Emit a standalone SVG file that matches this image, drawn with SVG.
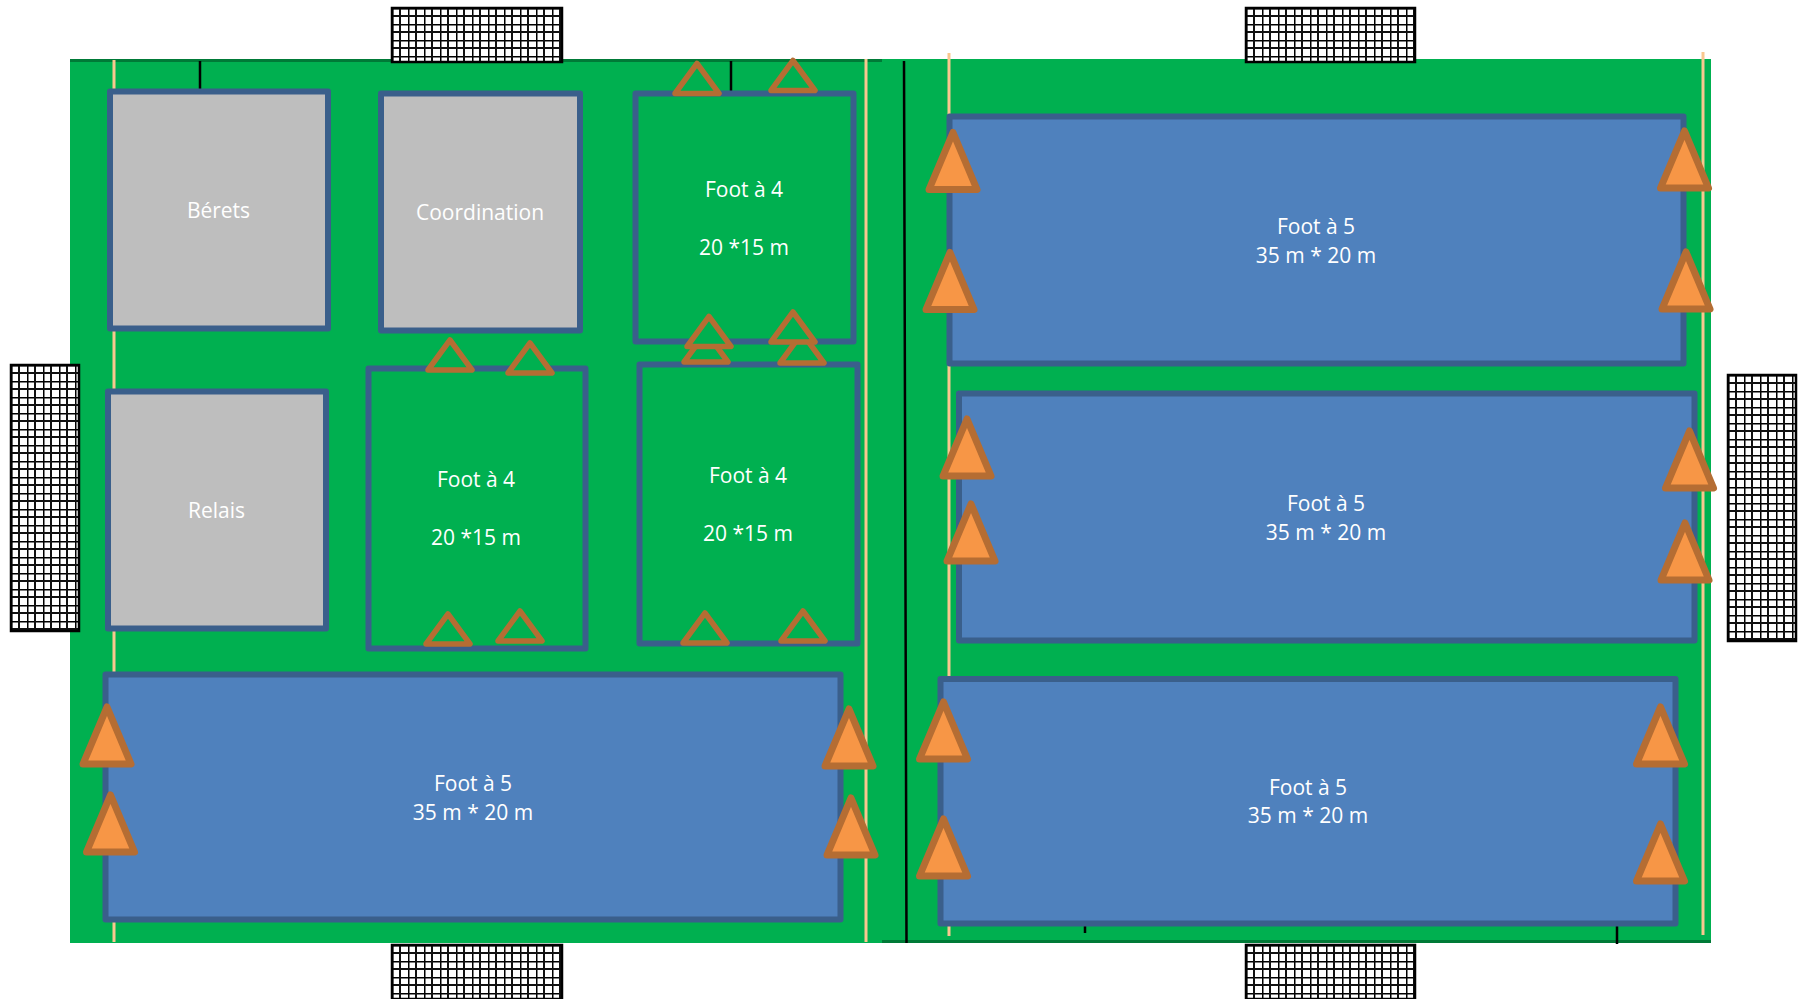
<svg xmlns="http://www.w3.org/2000/svg" width="1806" height="999" viewBox="0 0 1806 999">
<style>
.gray{fill:#BEBEBE;stroke:#3A5F8B;stroke-width:6;stroke-linejoin:round}
.f4{fill:#00B050;stroke:#3A5F8B;stroke-width:6;stroke-linejoin:round}
.f5{fill:#4F81BD;stroke:#3A5F8B;stroke-width:6;stroke-linejoin:round}
.t{font-family:"Open Sans","Noto Sans",sans-serif;font-size:21px;fill:#fff;text-anchor:middle}
.net{fill:url(#mesh);stroke:#000;stroke-width:2.500}
.tan{stroke:#F9C78F;stroke-width:3;fill:none}
.blk{stroke:#000;stroke-width:2.500;fill:none}
.drk{stroke:#007A37;stroke-width:3;fill:none}
.sm{fill:#00B050;stroke:#B56D33;stroke-width:5.500;stroke-linejoin:round}
.lg{fill:#F79646;stroke:#B56D33;stroke-width:7;stroke-linejoin:round}
</style>
<defs>
<pattern id="mesh" patternUnits="userSpaceOnUse" width="16" height="16">
<rect width="16" height="16" fill="#fff"/>
<path d="M0 0V16M0 0H16" stroke="#000" stroke-width="3" fill="none"/>
<path d="M8 0V16M0 8H16" stroke="#111" stroke-width="2" fill="none"/>
</pattern>
<path id="s" d="M-22 0L0 -30L22 0Z"/>
<path id="l" d="M-24 0L0 -57L24 0Z"/>
</defs>

<rect id="field" x="70" y="59" width="1641" height="884" fill="#00B050"/>

<g id="connectors">
<path class="drk" d="M70 60.500H882M882 941.500H1711"/>
<path class="tan" d="M114 60V942M866 59V942M949 53V936M1703 52V935"/>
<path class="blk" d="M200 61V90M731 61V92M904 61L906.500 943M1085 926V933M1617 925V944"/>
</g>

<g id="net-top-1" transform="translate(392 8)"><rect class="net" width="170" height="54"/></g>
<g id="net-top-2" transform="translate(1246 8)"><rect class="net" width="169" height="54"/></g>
<g id="net-bottom-1" transform="translate(392 945)"><rect class="net" width="170" height="54"/></g>
<g id="net-bottom-2" transform="translate(1246 945)"><rect class="net" width="169" height="54"/></g>
<g id="net-left" transform="translate(11 365)"><rect class="net" width="68" height="266"/></g>
<g id="net-right" transform="translate(1728 375)"><rect class="net" width="68" height="266"/></g>

<g id="berets"><rect class="gray" x="110" y="91.500" width="218" height="237"/><text class="t" x="218.500" y="218">Bérets</text></g>
<g id="coordination"><rect class="gray" x="381" y="93.500" width="199" height="237"/><text class="t" x="480" y="220">Coordination</text></g>
<g id="relais"><rect class="gray" x="108" y="391.500" width="218" height="237"/><text class="t" x="216.500" y="518">Relais</text></g>

<g id="foot4-a"><rect class="f4" x="368.500" y="368.500" width="217" height="280"/><text class="t" x="476" y="487">Foot à 4</text><text class="t" x="476" y="545">20 *15 m</text></g>
<g id="foot4-b"><rect class="f4" x="635.500" y="93.500" width="218" height="248"/><text class="t" x="744" y="196.500">Foot à 4</text><text class="t" x="744" y="254.500">20 *15 m</text></g>
<g id="foot4-c"><rect class="f4" x="639.500" y="364.500" width="218" height="279"/><text class="t" x="748" y="482.500">Foot à 4</text><text class="t" x="748" y="540.500">20 *15 m</text></g>

<g id="foot5-a"><rect class="f5" x="105.500" y="674.500" width="735" height="245"/><text class="t" x="473" y="791">Foot à 5</text><text class="t" x="473" y="819.500">35 m * 20 m</text></g>
<g id="foot5-b"><rect class="f5" x="949.500" y="116.500" width="734" height="247"/><text class="t" x="1316" y="234">Foot à 5</text><text class="t" x="1316" y="263">35 m * 20 m</text></g>
<g id="foot5-c"><rect class="f5" x="959" y="393.500" width="735.500" height="247"/><text class="t" x="1326" y="511">Foot à 5</text><text class="t" x="1326" y="539.500">35 m * 20 m</text></g>
<g id="foot5-d"><rect class="f5" x="940.500" y="679" width="735" height="244.500"/><text class="t" x="1308" y="795">Foot à 5</text><text class="t" x="1308" y="823">35 m * 20 m</text></g>

<g id="cones-small">
<use class="sm" href="#s" x="706" y="362"/>
<use class="sm" href="#s" x="802" y="363"/>
<use class="sm" href="#s" x="697" y="93.500"/>
<use class="sm" href="#s" x="793" y="90.500"/>
<use class="sm" href="#s" x="709" y="346.500"/>
<use class="sm" href="#s" x="793" y="342"/>
<use class="sm" href="#s" x="450" y="370"/>
<use class="sm" href="#s" x="530" y="373"/>
<use class="sm" href="#s" x="448" y="644"/>
<use class="sm" href="#s" x="520" y="641"/>
<use class="sm" href="#s" x="705" y="643"/>
<use class="sm" href="#s" x="803" y="641"/>
</g>
<g id="cones-large">
<use class="lg" href="#l" x="953" y="189.500"/>
<use class="lg" href="#l" x="950" y="309.500"/>
<use class="lg" href="#l" x="1684.500" y="188"/>
<use class="lg" href="#l" x="1686" y="309"/>
<use class="lg" href="#l" x="967" y="476"/>
<use class="lg" href="#l" x="971" y="561"/>
<use class="lg" href="#l" x="1689.500" y="488"/>
<use class="lg" href="#l" x="1685" y="580"/>
<use class="lg" href="#l" x="943.500" y="759"/>
<use class="lg" href="#l" x="943.500" y="876"/>
<use class="lg" href="#l" x="1660.500" y="764"/>
<use class="lg" href="#l" x="1660.500" y="881"/>
<use class="lg" href="#l" x="849" y="766"/>
<use class="lg" href="#l" x="851" y="855"/>
<use class="lg" href="#l" x="107" y="764"/>
<use class="lg" href="#l" x="110.500" y="852"/>
</g>
</svg>
